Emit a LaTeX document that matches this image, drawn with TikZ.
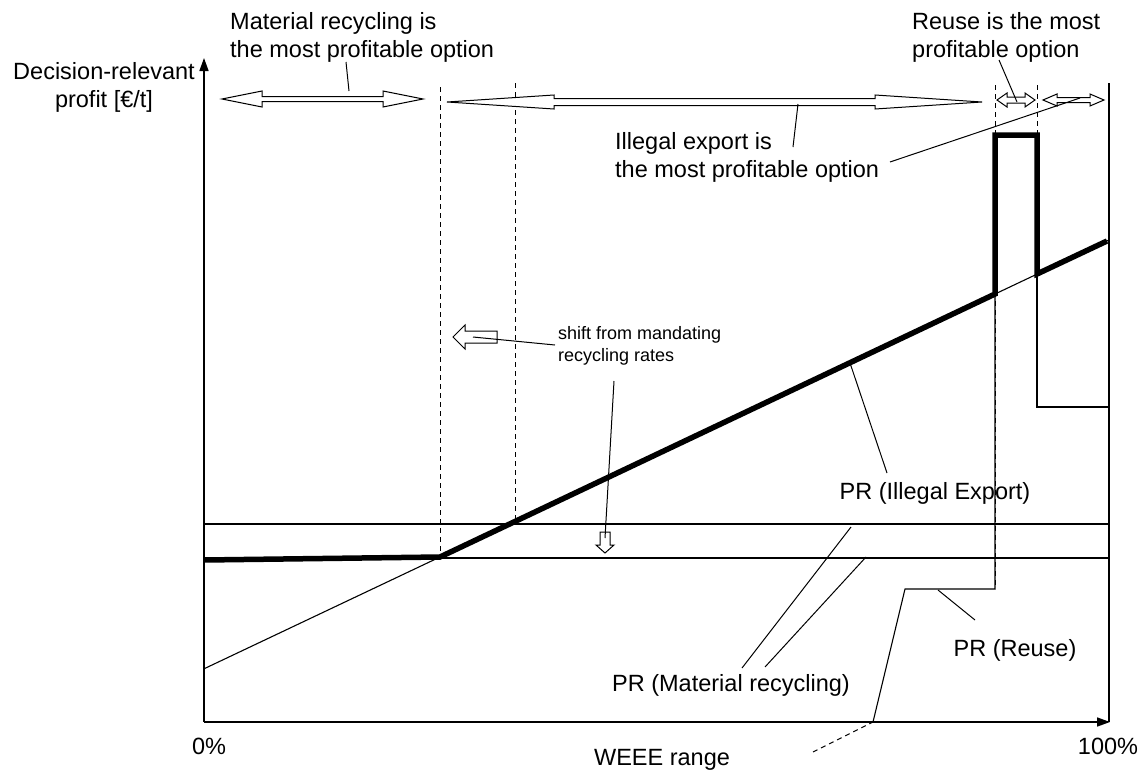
\documentclass[tikz,border=0pt]{standalone}
\usepackage{fontspec}
\setmainfont{Liberation Sans}
\usetikzlibrary{arrows.meta}

% block double arrow: x1, x2, y, head length, head half-width, shaft half-width
\newcommand{\blockdbl}[6]{%
  \draw[blockarrow] (#1,#3) -- (#1+#4,#3-#5) -- (#1+#4,#3-#6) -- (#2-#4,#3-#6)
    -- (#2-#4,#3-#5) -- (#2,#3) -- (#2-#4,#3+#5) -- (#2-#4,#3+#6)
    -- (#1+#4,#3+#6) -- (#1+#4,#3+#5) -- cycle;}

\begin{document}
\begin{tikzpicture}[x=1pt,y=-1pt,
  lbl/.style={font=\fontsize{23.5}{28}\selectfont, inner sep=0pt, align=left},
  smalllbl/.style={font=\fontsize{18}{22.5}\selectfont, inner sep=0pt, align=left},
  axis/.style={line width=1.6pt, -{Triangle[length=13pt,width=9pt]}},
  curve/.style={line width=1.1pt},
  envelope/.style={line width=5.5pt, line join=miter},
  guide/.style={line width=1pt, dash pattern=on 5pt off 4pt},
  leader/.style={line width=1pt},
  blockarrow/.style={draw, fill=white, line width=1pt, line join=miter}]

\useasboundingbox (0,0) rectangle (1148,771);

% axes and right border
\coordinate (O) at (204,722);
\coordinate (Ytip) at (204,58);
\coordinate (Xtip) at (1110,722);
\coordinate (Rtop) at (1109,83);
\coordinate (Rbot) at (1109,722);
\draw[axis] (O) -- (Ytip);
\draw[axis] (O) -- (Xtip);
\draw[curve] (Rtop) -- (Rbot);

% dashed boundaries between the profitable regions
\draw[guide] (440,87) -- (440,557);
\draw[guide] (515,83) -- (515,523);
\draw[guide] (995,85) -- (995,589);
\draw[guide] (1037,85) -- (1037,407);

% PR (Material recycling), before and after the shift
\draw[curve] (204,524) -- (1109,524);
\draw[curve] (204,558) -- (1109,558);

% PR (Illegal Export)
\draw[curve] (204,668.8) -- (1109,240);

% PR (Reuse)
\draw[curve] (873,722) -- (905,589) -- (995,589) -- (995,294);
\draw[curve] (1037,274) -- (1037,407) -- (1109,407);

% upper envelope of the options
\draw[envelope] (204,560) -- (440,557) -- (995,294) -- (995,135)
  -- (1037,135) -- (1037,274) -- (1107,241);

% range arrows
\blockdbl{222}{423}{99}{40}{8}{2.5}
\blockdbl{447}{982}{102}{107}{7}{3.5}
\blockdbl{997}{1035}{100}{10}{7}{3}
\blockdbl{1043}{1104}{100}{14}{6}{2.5}

% shift arrows
\draw[blockarrow] (453,337) -- (465,325) -- (465,331) -- (497,331) -- (497,343)
  -- (465,343) -- (465,349) -- cycle;
\draw[blockarrow] (600,532) -- (610,532) -- (610,545) -- (614,545) -- (605,553)
  -- (596,545) -- (600,545) -- cycle;

% labels
\node[lbl, anchor=north west] (mrtext) at (230,12) {Material recycling is\\the most profitable option};
\node[lbl, anchor=north west] (reusetext) at (912,12) {Reuse is the most\\profitable option};
\node[lbl, anchor=north west] (ietext) at (615,132) {Illegal export is\\the most profitable option};
\node[lbl, align=center, anchor=north] (ylabel) at (104,62) {Decision-relevant\\profit [€/t]};
\node[smalllbl, anchor=north west] (shifttext) at (558,326) {shift from mandating\\recycling rates};
\node[lbl] (pri) at (935,493) {PR (Illegal Export)};
\node[lbl] (prm) at (731,685) {PR (Material recycling)};
\node[lbl] (prr) at (1015,650) {PR (Reuse)};
\node[lbl] (p0) at (209,746) {0\%};
\node[lbl] (p100) at (1108,746) {100\%};
\node[lbl] (weee) at (662,760) {WEEE range};

% leader lines
\coordinate (mrA) at (346,62);   \coordinate (mrB) at (349,91);
\coordinate (ieA) at (793,147);  \coordinate (ieB) at (798,104);
\coordinate (ieC) at (890,162);  \coordinate (ieD) at (1080,98);
\coordinate (ruA) at (999,60);   \coordinate (ruB) at (1017,102);
\coordinate (shA) at (555,345);  \coordinate (shB) at (473,337);
\coordinate (shC) at (614,381);  \coordinate (shD) at (605,538);
\coordinate (priA) at (887,473); \coordinate (priB) at (850,363);
\coordinate (prmA) at (742,668); \coordinate (prmB) at (851,527);
\coordinate (prmC) at (765,667); \coordinate (prmD) at (866,557);
\coordinate (prrA) at (975,620); \coordinate (prrB) at (938,590);
\coordinate (wA) at (813,752);   \coordinate (wB) at (873,722);

\draw[leader] (mrA) -- (mrB);
\draw[leader] (ieA) -- (ieB);
\draw[leader] (ieC) -- (ieD);
\draw[leader] (ruA) -- (ruB);
\draw[leader] (shA) -- (shB);
\draw[leader] (shC) -- (shD);
\draw[leader] (priA) -- (priB);
\draw[leader] (prmA) -- (prmB);
\draw[leader] (prmC) -- (prmD);
\draw[leader] (prrA) -- (prrB);
\draw[guide] (wA) -- (wB);
\end{tikzpicture}
\end{document}
